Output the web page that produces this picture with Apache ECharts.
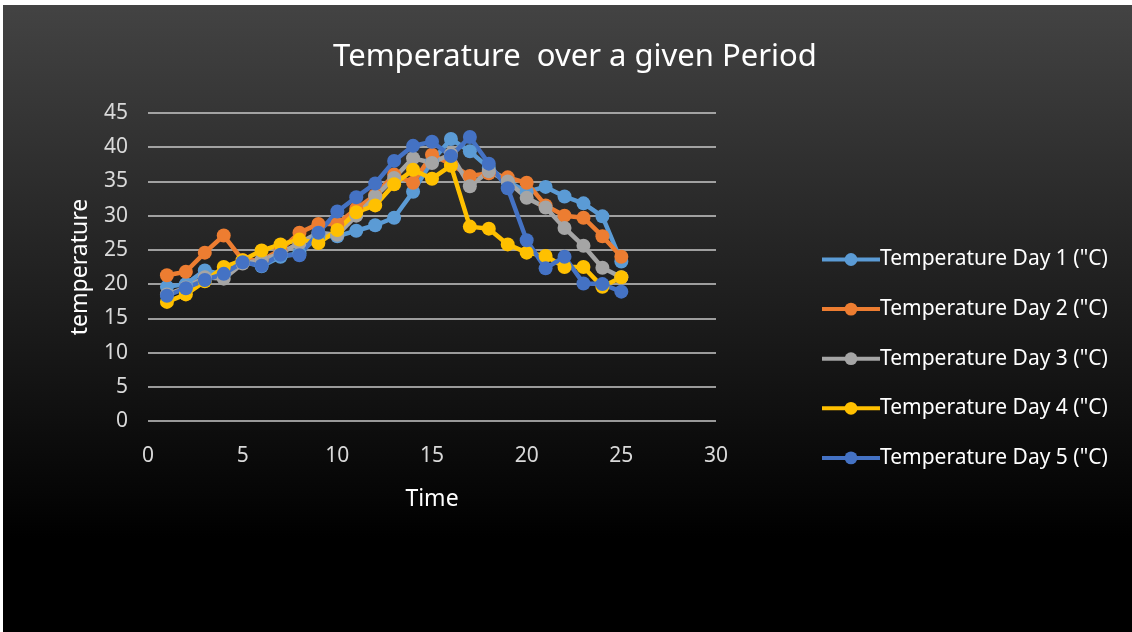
<!DOCTYPE html>
<html>
<head>
<meta charset="utf-8">
<script src="https://cdn.jsdelivr.net/npm/echarts@6/dist/echarts.min.js"></script>
<style>
html,body{margin:0;padding:0;background:#ffffff;}
#chart{position:absolute;left:3px;top:5px;width:1129px;height:627px;}
</style>
</head>
<body>
<div id="chart"></div>
<script>
const titleText = 'Temperature  over a given Period';
const xName = 'Time';
const yName = 'temperature';
const timePoints = [1,2,3,4,5,6,7,8,9,10,11,12,13,14,15,16,17,18,19,20,21,22,23,24,25];
const seriesNames = ['Temperature Day 1 ("C)','Temperature Day 2 ("C)','Temperature Day 3 ("C)','Temperature Day 4 ("C)','Temperature Day 5 ("C)'];
const day1 = [19.6,20.0,22.0,21.4,23.3,22.6,24.0,24.5,27.0,27.0,27.8,28.6,29.7,33.5,38.0,41.2,39.4,37.0,35.0,33.5,34.2,32.8,31.8,29.9,23.3];
const day2 = [21.3,21.8,24.6,27.1,23.5,23.5,25.0,27.5,28.8,28.8,31.0,33.0,36.0,34.8,38.9,37.5,35.8,36.2,35.6,34.8,31.5,30.0,29.7,27.0,24.0];
const day3 = [18.5,19.5,21.0,20.8,23.0,23.5,24.5,26.0,27.5,27.2,30.0,32.8,35.5,38.4,37.7,39.0,34.3,36.5,35.0,32.6,31.2,28.2,25.6,22.4,21.0];
const day4 = [17.4,18.5,20.4,22.5,23.5,24.9,25.8,26.5,26.0,27.9,30.5,31.5,34.6,36.7,35.4,37.3,28.4,28.1,25.8,24.6,24.1,22.5,22.5,19.6,21.0];
const day5 = [18.3,19.4,20.6,21.5,23.2,22.7,24.3,24.2,27.5,30.6,32.7,34.7,38.0,40.2,40.8,38.7,41.5,37.6,34.0,26.4,22.3,24.0,20.1,20.0,18.9];
const colors = ['#5B9BD5','#ED7D31','#A5A5A5','#FFC000','#4472C4'];

const allDays = [day1, day2, day3, day4, day5];
const font = "'Noto Sans', 'Open Sans', sans-serif";

const chart = echarts.init(document.getElementById('chart'));
chart.setOption({
  backgroundColor: {
    type: 'linear', x: 0, y: 0, x2: 0, y2: 1,
    colorStops: [
      {offset: 0, color: '#434343'},
      {offset: 0.85, color: '#000000'},
      {offset: 1, color: '#000000'}
    ]
  },
  animation: false,
  color: colors,
  textStyle: {fontFamily: font},
  title: {
    text: titleText,
    left: 567, top: 32, textAlign: 'center',
    textStyle: {color: '#ffffff', fontSize: 31, fontWeight: 'normal', fontFamily: font}
  },
  grid: {left: 145, right: 416, top: 108, bottom: 211},
  legend: {
    orient: 'vertical',
    left: 812, top: 239,
    itemWidth: 58, itemHeight: 16, itemGap: 28.6,
    lineStyle: {width: 4},
    textStyle: {color: '#ffffff', fontSize: 21, fontFamily: font, padding: [0,0,0,-5]},
    data: seriesNames
  },
  xAxis: {
    type: 'value', min: 0, max: 30, interval: 5,
    name: xName, nameLocation: 'middle', nameGap: 67,
    nameTextStyle: {color: '#ffffff', fontSize: 23, fontFamily: font},
    axisLine: {show: false}, axisTick: {show: false},
    splitLine: {show: false},
    axisLabel: {color: '#d9d9d9', fontSize: 21, margin: 25, fontFamily: font}
  },
  yAxis: {
    type: 'value', min: 0, max: 45, interval: 5,
    name: yName, nameLocation: 'middle', nameGap: 56, nameRotate: 90,
    nameTextStyle: {color: '#ffffff', fontSize: 23, fontFamily: font},
    axisLine: {show: false}, axisTick: {show: false},
    splitLine: {lineStyle: {color: '#c8c8c8', width: 1.5}},
    axisLabel: {color: '#d9d9d9', fontSize: 21, margin: 20, fontFamily: font}
  },
  series: allDays.map((d, i) => ({
    name: seriesNames[i],
    type: 'line',
    data: timePoints.map((t, j) => [t, d[j]]),
    symbol: 'circle', symbolSize: 14,
    lineStyle: {width: 4.5, color: colors[i]},
    itemStyle: {color: colors[i]}
  }))
});
</script>
</body>
</html>
